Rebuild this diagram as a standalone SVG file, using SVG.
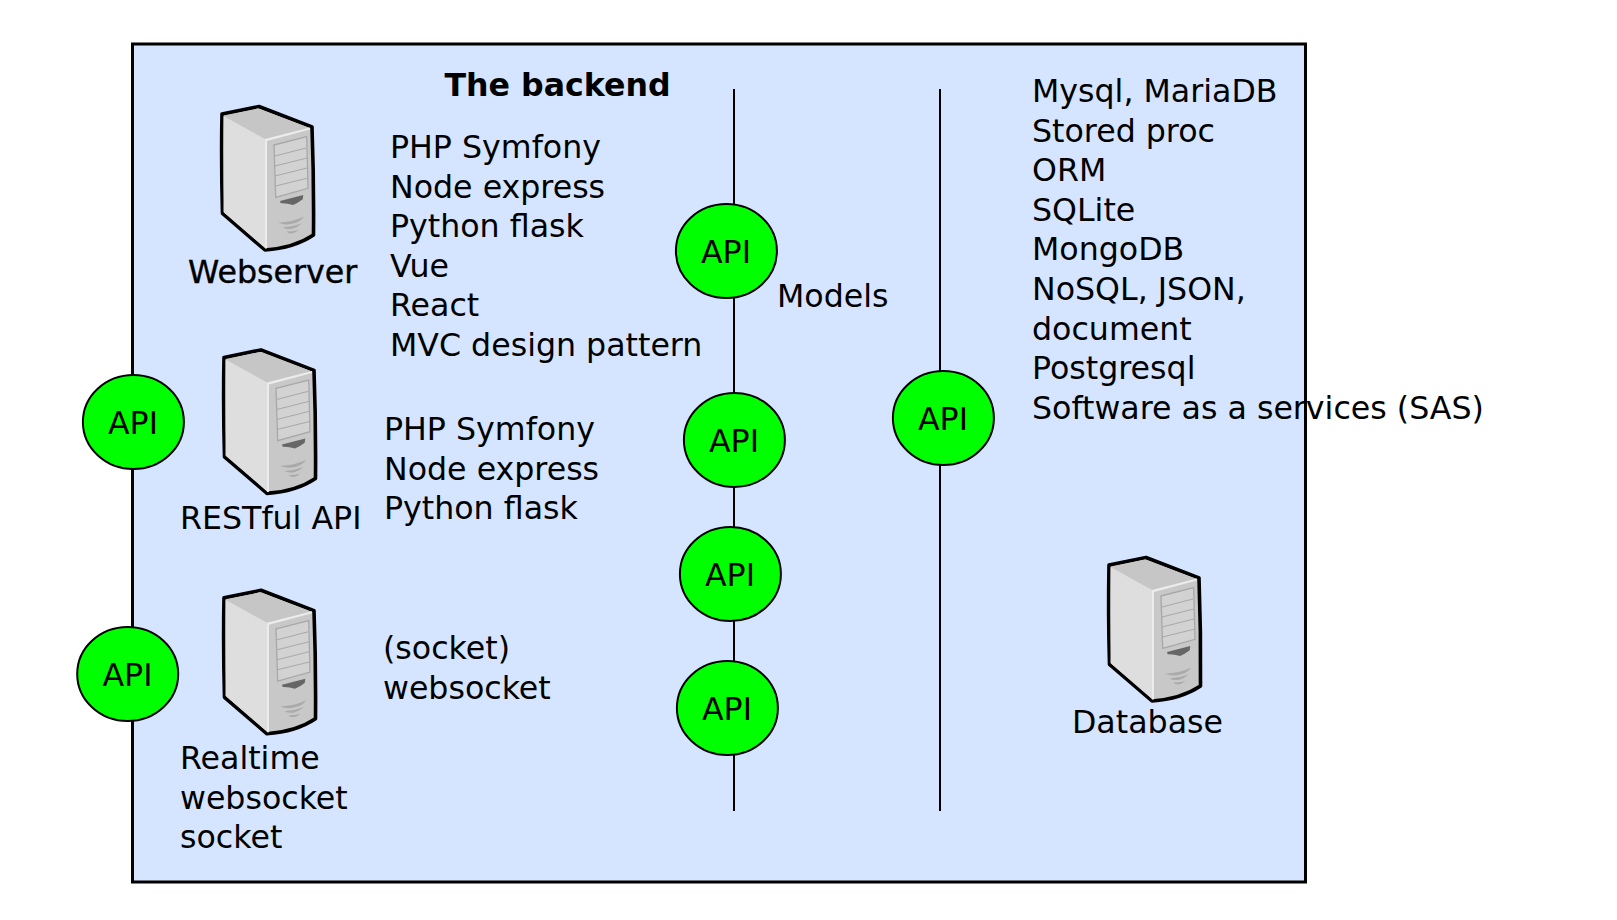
<svg xmlns="http://www.w3.org/2000/svg" width="1617" height="920" viewBox="0 0 1617 920">
<style>
text{font-family:"DejaVu Sans",sans-serif;font-size:31.650px;fill:#000}
.api{fill:#00ff00;stroke:#000;stroke-width:2}
.line{fill:none;stroke:#000;stroke-width:2}
</style>
<defs>
<g id="server">
<path d="M32 24L69 16.500L122 37Q124 90 123.500 145Q104 158 75 160L32.500 123.500Q31 70 32 24Z" fill="#c8c8c8" stroke="#000" stroke-width="3.600" stroke-linejoin="round"/>
<path d="M33.500 26L68 18.500L120 38L75 49Z" fill="#c6c6c6"/>
<path d="M33.500 26L75 49L75 158L33.500 122Z" fill="#dedede"/>
<path d="M75 49L120 37.500L120 39.500L77 51L77 158.500L75 158.500Z" fill="#ececec"/>
<path d="M84 55L116.700 46.700L118 98.300L85.700 107.300Z" fill="#d2d2d2" stroke="#a8a8a8" stroke-width="1.300"/>
<path d="M85 66L116 58M85 76L117 68M85 86L117 78M85.500 96L118 88" stroke="#a8a8a8" stroke-width="1" fill="none"/>
<path d="M90 111L113.300 105L112.700 109.300Q108 113 103 115Q97 113 90.700 113.300Z" fill="#666"/>
<path d="M88.300 132.700Q102 132 114 126.700Q111 131 105 133Q96 136 88.300 132.700Z" fill="#aaa"/>
<path d="M92.500 137.500Q102 137 111.500 133.500Q108 137 103 138.500Q97 140 92.500 137.500Z" fill="#aaa"/>
<path d="M96.500 141.500Q103 141.500 108.500 140Q104 143.500 101 143.500Q98 143.500 96.500 141.500Z" fill="#aaa"/>
</g>
</defs>
<rect id="backend" x="132.500" y="44" width="1173" height="838" fill="#d5e5ff" stroke="#000" stroke-width="3"/>
<g id="connectors">
<path class="line" d="M734 89V811"/>
<path class="line" d="M940 89V811"/>
</g>
<text id="title" x="444.500" y="96" style="font-weight:700">The backend</text>
<g id="webserver"><use href="#server" transform="translate(190 90)"/><text x="188" y="283" stroke="#000" stroke-width="0.400">Webserver</text></g>
<g id="restful"><use href="#server" transform="translate(192 333.400)"/><text x="180" y="529">RESTful API</text></g>
<g id="realtime"><use href="#server" transform="translate(192 573.800)"/><text x="180" y="769">Realtime</text><text x="180" y="808.600">websocket</text><text x="180" y="848.200">socket</text></g>
<g id="database"><use href="#server" transform="translate(1077 541)"/><text x="1072" y="733">Database</text></g>
<g id="list-web">
<text x="390" y="158.300">PHP Symfony</text><text x="390" y="197.900">Node express</text><text x="390" y="237">Python flask</text><text x="390" y="277.100">Vue</text><text x="390" y="316.200">React</text><text x="390" y="356.300">MVC design pattern</text>
</g>
<g id="list-rest">
<text x="384" y="440.300">PHP Symfony</text><text x="384" y="479.900">Node express</text><text x="384" y="519">Python flask</text>
</g>
<g id="list-socket"><text x="383" y="659">(socket)</text><text x="383" y="698.600">websocket</text></g>
<text id="models" x="777" y="307">Models</text>
<g id="list-db">
<text x="1032" y="102">Mysql, MariaDB</text><text x="1032" y="141.600">Stored proc</text><text x="1032" y="181.200">ORM</text><text x="1032" y="220.800">SQLite</text><text x="1032" y="260.400">MongoDB</text><text x="1032" y="300">NoSQL, JSON,</text><text x="1032" y="339.600">document</text><text x="1032" y="379.200">Postgresql</text><text x="1032" y="418.800">Software as a services (SAS)</text>
</g>
<g id="api1"><ellipse class="api" cx="726.400" cy="251" rx="50.500" ry="47"/><text x="726" y="263" text-anchor="middle">API</text></g>
<g id="api2"><ellipse class="api" cx="734.400" cy="440" rx="50.500" ry="47"/><text x="734" y="452" text-anchor="middle">API</text></g>
<g id="api3"><ellipse class="api" cx="730.400" cy="574" rx="50.500" ry="47"/><text x="730" y="586" text-anchor="middle">API</text></g>
<g id="api4"><ellipse class="api" cx="727.400" cy="708" rx="50.500" ry="47"/><text x="727" y="720" text-anchor="middle">API</text></g>
<g id="api5"><ellipse class="api" cx="943.400" cy="418" rx="50.500" ry="47"/><text x="943" y="430" text-anchor="middle">API</text></g>
<g id="api6"><ellipse class="api" cx="133.400" cy="422" rx="50.500" ry="47"/><text x="133" y="434" text-anchor="middle">API</text></g>
<g id="api7"><ellipse class="api" cx="127.700" cy="674" rx="50.500" ry="47"/><text x="127.500" y="686" text-anchor="middle">API</text></g>
</svg>
